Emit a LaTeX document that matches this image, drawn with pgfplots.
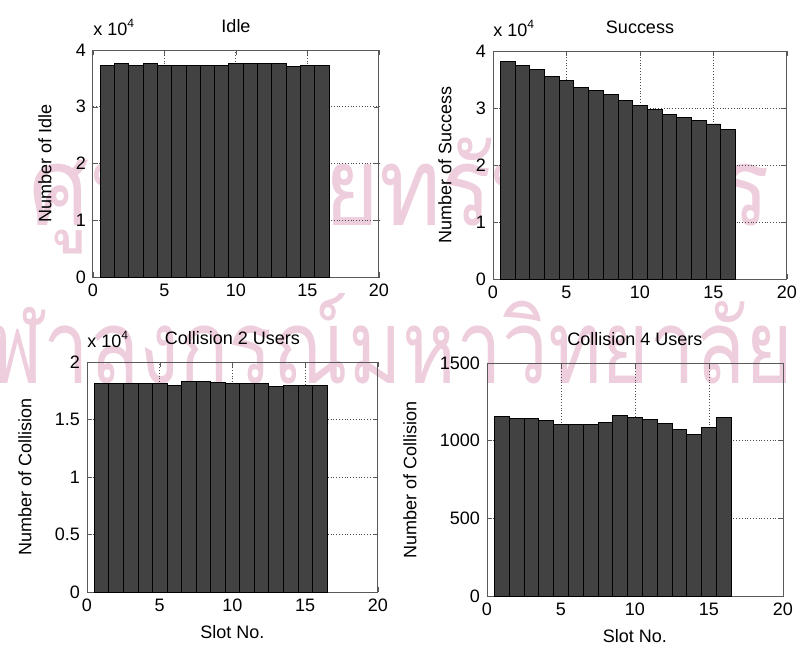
\documentclass[border=0pt]{standalone}
\usepackage{pgfplots}
\pgfplotsset{compat=1.18}
\usepackage{pgfplotstable}
\usepackage{fontspec}
\setmainfont{Liberation Sans}
\newfontfamily\thaifont[Script=Thai]{Loma}

\definecolor{barfill}{RGB}{66,66,66}
\definecolor{wmpink}{RGB}{238,206,220}

% slot counts
\pgfplotstableread{
slot idle success coll2 coll4
1  37300 38100 18100 1155
2  37600 37400 18100 1142
3  37200 36800 18100 1142
4  37600 35500 18100 1132
5  37300 34900 18100 1105
6  37200 33600 18000 1105
7  37200 33100 18300 1105
8  37200 32300 18300 1120
9  37200 31400 18200 1160
10 37600 30400 18100 1150
11 37600 29800 18100 1135
12 37600 28900 18100 1110
13 37600 28400 17900 1072
14 37100 27800 18000 1040
15 37300 27200 18000 1085
16 37300 26300 18000 1148
}\slots

\pgfplotsset{
  panel/.style={
    anchor=south west, scale only axis,
    xmin=0, xmax=20, xtick={0,5,...,20},
    ymin=0,
    grid=major,
    grid style={densely dotted, black!70, line width=0.5pt},
    axis line style={black!65, line width=0.5pt},
    tick align=inside, major tick length=2.5pt,
    tick style={black!65},
    /pgf/number format/assume math mode=true,
    /pgf/number format/1000 sep={},
    tick label style={font=\fontsize{9}{10.8}\selectfont},
    label style={font=\fontsize{9}{10.8}\selectfont},
    every axis title shift=0pt,
    title style={font=\fontsize{9}{10.8}\selectfont, at={(0.5,1)}, anchor=base, yshift=9pt},
    every y tick scale label/.style={at={(rel axis cs:0,1)}, anchor=base west, yshift=7.5pt, inner sep=0pt, font=\fontsize{9}{10.8}\selectfont},
    ytick scale label code/.code={x 10\textsuperscript{4}},
  },
  ylab/.style={ylabel style={at={([xshift=-#1]rel axis cs:0,0.5)}, anchor=center}},
  bars/.style={ybar, bar width=1, fill=barfill, draw=black, line width=0.4pt},
}

\begin{document}
\begin{tikzpicture}
\useasboundingbox (0,0) rectangle (399.5pt,325pt);

% faint watermark of the scanned page
\node[text=wmpink, inner sep=0pt] at (200pt,229pt)
  {\resizebox{370pt}{48pt}{\thaifont ศูนย์วิทยทรัพยากร}};
\node[text=wmpink, inner sep=0pt, anchor=east] at (397pt,149pt)
  {\resizebox{427pt}{45pt}{\thaifont จุฬาลงกรณ์มหาวิทยาลัย}};

\begin{axis}[panel, at={(46.5pt,186.5pt)}, width=143pt, height=113.5pt,
  ymax=40000, ytick={0,10000,...,40000}, scaled y ticks=base 10:-4,
  title={Idle}, ylabel={Number of Idle}, ylab=24pt]
\addplot[bars] table[x=slot, y=idle] {\slots};
\end{axis}

\begin{axis}[panel, at={(246.5pt,185.5pt)}, width=147pt, height=114pt,
  ymax=40000, ytick={0,10000,...,40000}, scaled y ticks=base 10:-4,
  title={Success}, ylabel={Number of Success}, ylab=24pt]
\addplot[bars] table[x=slot, y=success] {\slots};
\end{axis}

\begin{axis}[panel, at={(43.5pt,29pt)}, width=145.5pt, height=115pt,
  ymax=20000, ytick={0,5000,...,20000}, scaled y ticks=base 10:-4,
  title={Collision 2 Users}, ylabel={Number of Collision}, ylab=31pt,
  xlabel={Slot No.}]
\addplot[bars] table[x=slot, y=coll2] {\slots};
\end{axis}

\begin{axis}[panel, at={(243.5pt,27pt)}, width=148pt, height=116.5pt,
  ymax=1500, ytick={0,500,1000,1500}, scaled y ticks=false,
  title={Collision 4 Users}, ylabel={Number of Collision}, ylab=38.5pt,
  xlabel={Slot No.}]
\addplot[bars] table[x=slot, y=coll4] {\slots};
\end{axis}
\end{tikzpicture}
\end{document}
